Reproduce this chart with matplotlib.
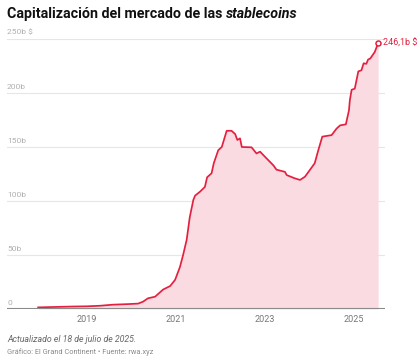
import numpy as np
import matplotlib
matplotlib.use("Agg")
import matplotlib.pyplot as plt

plt.rcParams['font.family'] = ['Roboto', 'DejaVu Sans']

# fecha (año decimal) y capitalización (miles de millones $)
years = [2017.90, 2018.39, 2018.69, 2019.00, 2019.29, 2019.58, 2019.90, 2020.15,
         2020.26, 2020.37, 2020.53, 2020.71, 2020.87, 2020.98, 2021.09, 2021.16,
         2021.24, 2021.31, 2021.39, 2021.43, 2021.54, 2021.65, 2021.70, 2021.80,
         2021.85, 2021.95, 2022.03, 2022.14, 2022.25, 2022.33, 2022.38, 2022.44,
         2022.48, 2022.70, 2022.81, 2022.89, 2023.00, 2023.19, 2023.26, 2023.45,
         2023.49, 2023.67, 2023.79, 2023.90, 2024.01, 2024.12, 2024.20, 2024.29,
         2024.50, 2024.61, 2024.69, 2024.82, 2024.89, 2024.91, 2024.95, 2025.02,
         2025.10, 2025.17, 2025.22, 2025.28, 2025.32, 2025.37, 2025.47, 2025.545]
cap = [1.5, 2.0, 2.3, 2.5, 3.0, 4.0, 4.5, 5.0,
       6.8, 9.9, 11.4, 18.0, 21.3, 27.0, 39.0, 50.0,
       64.0, 85.0, 101.0, 105.0, 108.6, 113.0, 122.0, 125.6,
       135.0, 147.0, 150.0, 165.0, 165.0, 162.0, 156.5, 158.0,
       150.0, 149.7, 144.0, 145.7, 141.0, 133.0, 129.0, 127.0,
       124.0, 121.0, 119.5, 122.5, 128.7, 135.0, 147.0, 159.6,
       161.0, 167.0, 170.0, 171.0, 184.0, 193.5, 203.0, 204.0,
       220.0, 221.0, 227.5, 227.0, 231.0, 232.0, 238.0, 246.1]

yticks = [0, 50, 100, 150, 200, 250]
ylabels = ['0', '50b', '100b', '150b', '200b', '250b $']
xticks = [2019, 2021, 2023, 2025]

red = '#e3203f'
fig = plt.figure(figsize=(4.2, 3.62), dpi=100)
ax = fig.add_axes([7/420, 1-309/362, 378/420, 270/362])

ax.fill_between(years, cap, 0, color='#f9dbe1', lw=0)
ax.plot(years, cap, color=red, lw=1.25, solid_joinstyle='round', zorder=3)
ax.plot(years[-1], cap[-1], 'o', ms=3.6, mfc='white', mec=red, mew=1.1, zorder=4)
ax.text(years[-1] + 0.1, cap[-1], '246,1b $', color=red, fontsize=6.5,
        va='center', ha='left')

ax.set_xlim(2017.20, 2025.70)
ax.set_ylim(0, 250)
for v, lab in zip(yticks, ylabels):
    if v > 0:
        ax.axhline(v, color='#e6e6e6', lw=0.8, zorder=0)
    ax.text(2017.20, v + 3, lab, color='#b0b0b0', fontsize=6, va='bottom', ha='left')
ax.axhline(0, color='#8a8a8a', lw=1.5, zorder=5)

ax.set_xticks(xticks)
ax.set_xticklabels([str(x) for x in xticks], color='#777777', fontsize=6.5)
ax.tick_params(axis='x', length=0, pad=4)
ax.set_yticks([])
for s in ax.spines.values():
    s.set_visible(False)
ax.patch.set_alpha(0)

t1 = fig.text(7/420, 1-14/362, 'Capitalización del mercado de las ', fontsize=10.3,
              fontweight='bold', va='center', ha='left', color='#111111')
fig.canvas.draw()
bb = t1.get_window_extent()
fig.text(bb.x1/420, 1-14/362, 'stablecoins', fontsize=10.3, fontweight='bold',
         style='italic', va='center', ha='left', color='#111111')

fig.text(7/420, 1-340/362, 'Actualizado el 18 de julio de 2025.', fontsize=6.3,
         style='italic', color='#666666', va='center')
fig.text(7/420, 1-352/362, 'Gráfico: El Grand Continent • Fuente: rwa.xyz', fontsize=5.3,
         color='#8a8a8a', va='center')

fig.savefig('out.png', dpi=100)
